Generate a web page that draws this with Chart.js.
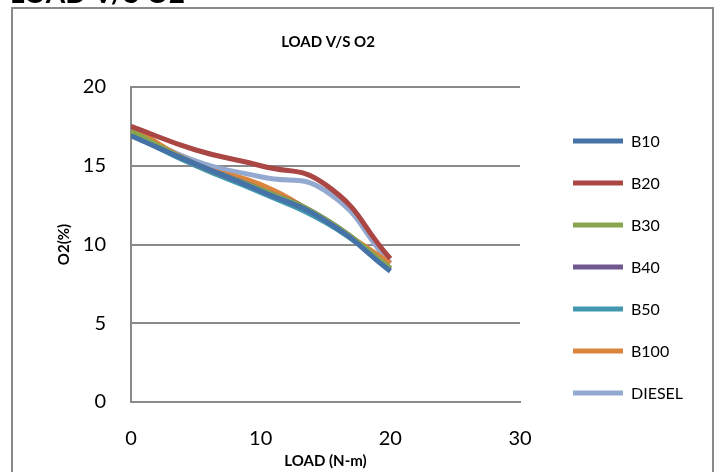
<!DOCTYPE html>
<html>
<head>
<meta charset="utf-8">
<script src="https://cdn.jsdelivr.net/npm/chart.js@4/dist/chart.umd.min.js"></script>
<style>
html,body{margin:0;padding:0;background:#fff;}
#wrap{position:relative;width:721px;height:472px;}
</style>
</head>
<body>
<div id="wrap"><canvas id="o2Chart" width="721" height="472"></canvas></div>
<script>
const loads = [0, 5, 10, 15, 20];
const b10 = [16.9, 15.1, 13.4, 11.5, 8.3];
const b20 = [17.5, 16.0, 15.0, 13.8, 9.1];
const b30 = [17.2, 15.1, 13.5, 11.6, 8.5];
const b40 = [17.1, 15.1, 13.5, 11.6, 8.4];
const b50 = [17.0, 15.0, 13.3, 11.4, 8.5];
const b100 = [17.5, 15.1, 13.8, 11.5, 8.8];
const diesel = [17.2, 15.3, 14.3, 13.4, 8.8];

const seriesNames = ["B10", "B20", "B30", "B40", "B50", "B100", "DIESEL"];
const seriesValues = [b10, b20, b30, b40, b50, b100, diesel];
const seriesColors = ["#4572A7", "#AA4643", "#89A54E", "#71588F", "#4198AF", "#DB843D", "#93A9CF"];

const xTicks = [0, 10, 20, 30];
const yTicks = [0, 5, 10, 15, 20];

const FONT = "Lato, 'Open Sans', sans-serif";

// frame, clipped heading, chart title and legend
const extras = {
  id: "extras",
  beforeDraw(chart) {
    const c = chart.ctx;
    c.save();
    c.fillStyle = "#000";
    c.font = "bold 28px " + FONT;
    c.textBaseline = "alphabetic";
    c.fillText("LOAD V/S O2", 10, 3);
    c.strokeStyle = "#8a8a8a";
    c.lineWidth = 2;
    c.strokeRect(12, 8, 701, 480);
    c.font = "bold 15px " + FONT;
    c.textAlign = "center";
    c.textBaseline = "middle";
    c.fillText("LOAD V/S O2", 328, 42);
    c.restore();
  },
  afterDraw(chart) {
    const c = chart.ctx;
    c.save();
    c.font = "16px " + FONT;
    c.textBaseline = "middle";
    chart.data.datasets.forEach((ds, i) => {
      const y = 141 + i * 42;
      c.strokeStyle = ds.borderColor;
      c.lineWidth = 5;
      c.beginPath();
      c.moveTo(573, y);
      c.lineTo(623, y);
      c.stroke();
      c.fillStyle = "#000";
      c.fillText(ds.label, 631, y + 1);
    });
    c.restore();
  }
};

new Chart(document.getElementById("o2Chart"), {
  type: "scatter",
  data: {
    datasets: seriesNames.map((name, i) => ({
      label: name,
      data: loads.map((x, j) => ({ x: x, y: seriesValues[i][j] })),
      showLine: true,
      borderColor: seriesColors[i],
      backgroundColor: seriesColors[i],
      borderWidth: 5,
      pointRadius: 0,
      tension: 0.5
    }))
  },
  options: {
    responsive: false,
    animation: false,
    layout: { padding: { left: 0, right: 201, top: 87, bottom: 0 } },
    plugins: {
      legend: { display: false },
      tooltip: { enabled: false },
      title: { display: false }
    },
    scales: {
      x: {
        type: "linear",
        min: 0,
        max: 30,
        afterBuildTicks(scale) { scale.ticks = xTicks.map(v => ({ value: v })); },
        afterFit(scale) { scale.height = 70; },
        grid: { display: false, drawTicks: false },
        border: { display: true, color: "#8a8a8a", width: 2 },
        ticks: { color: "#000", font: { family: FONT, size: 20 }, padding: 25 },
        title: {
          display: true,
          text: "LOAD (N-m)",
          color: "#000",
          font: { family: FONT, size: 15, weight: "bold" },
          padding: { top: 0, bottom: 2 }
        }
      },
      y: {
        min: 0,
        max: 20,
        afterBuildTicks(scale) { scale.ticks = yTicks.map(v => ({ value: v })); },
        afterFit(scale) { scale.width = 131; },
        grid: { color: "#8a8a8a", lineWidth: 2, drawTicks: false },
        border: { display: true, color: "#8a8a8a", width: 2 },
        ticks: { color: "#000", font: { family: FONT, size: 20 }, padding: 25 },
        title: {
          display: true,
          text: "O2(%)",
          color: "#000",
          font: { family: FONT, size: 15, weight: "bold" },
          padding: { top: 55, bottom: 0 }
        }
      }
    }
  },
  plugins: [extras]
});
</script>
</body>
</html>
